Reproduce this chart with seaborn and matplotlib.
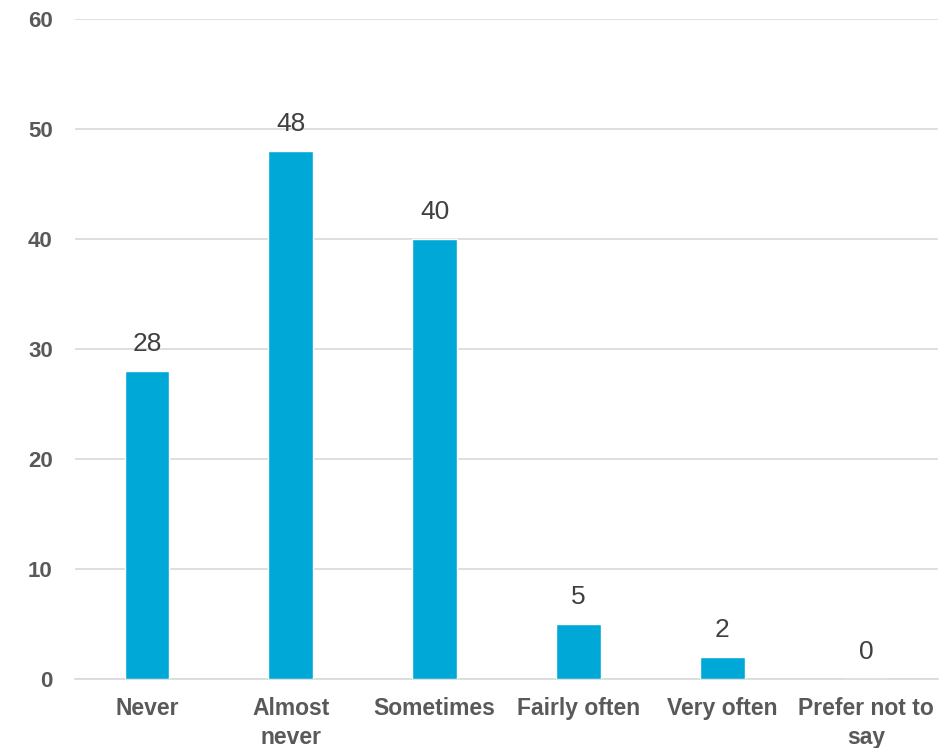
import matplotlib
matplotlib.use("Agg")
import matplotlib.pyplot as plt
import seaborn as sns
import pandas as pd

# survey answers and counts
categories = ["Never", "Almost\nnever", "Sometimes", "Fairly often", "Very often", "Prefer not to\nsay"]
counts = [28, 48, 40, 5, 2, 0]
y_ticks = [0, 10, 20, 30, 40, 50, 60]

df = pd.DataFrame({"answer": categories, "count": counts})

sns.set_theme(style="white")
plt.rcParams['font.family'] = ['Liberation Sans', 'DejaVu Sans']

fig = plt.figure(figsize=(9.51, 7.48), dpi=100)
ax = fig.add_axes([75 / 951, 69 / 748, 863 / 951, 660 / 748])

sns.barplot(data=df, x="answer", y="count", color="#00A8D8", width=0.31,
            saturation=1, ax=ax, zorder=3)

ax.set_ylim(0, 60)
ax.set_yticks(y_ticks)
ax.set_xlim(-0.5, len(categories) - 0.5)
ax.grid(axis="y", color="#D9D9D9", linewidth=1.2, zorder=0)
ax.set_xlabel("")
ax.set_ylabel("")

for side in ["top", "right", "left"]:
    ax.spines[side].set_visible(False)
ax.spines["bottom"].set_color("#D9D9D9")
ax.spines["bottom"].set_linewidth(1.2)

ax.tick_params(axis="y", length=0, pad=16, labelsize=16, labelcolor="#595959")
ax.tick_params(axis="x", length=0, pad=13, labelsize=16.5, labelcolor="#595959")
for lbl in ax.get_xticklabels() + ax.get_yticklabels():
    lbl.set_fontweight("bold")
for lbl in ax.get_xticklabels():
    lbl.set_linespacing(1.35)

# value labels above bars
for i, v in enumerate(counts):
    ax.annotate(str(v), (i, v), xytext=(0, 14.5), textcoords="offset points",
                ha="center", va="baseline", fontsize=19, color="#404040")

fig.savefig("out.png", dpi=100)
